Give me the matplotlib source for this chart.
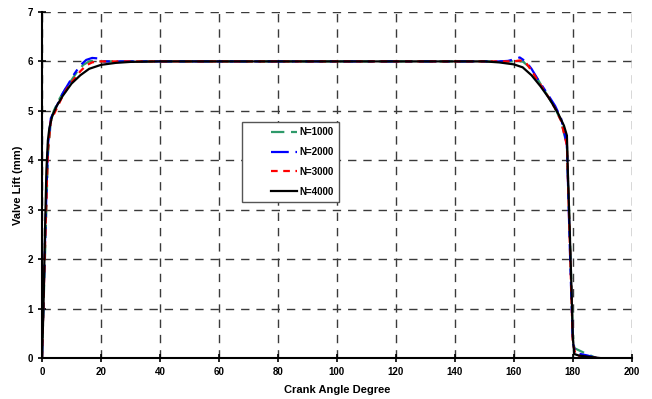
import matplotlib
matplotlib.use("Agg")
import matplotlib.pyplot as plt
from matplotlib.legend_handler import HandlerLine2D

plt.rcParams['font.family'] = ['Liberation Sans', 'DejaVu Sans']
plt.rcParams['font.weight'] = 'bold'

# valve lift curves (crank angle deg, lift mm)
x_1000 = [0, 1, 2, 3, 4, 6, 8, 10, 12, 14, 16, 18, 20, 25, 40, 100, 155, 160, 163, 165,
          168, 171, 174, 176, 177, 178, 179, 180, 180.5, 184, 186, 188]
y_1000 = [0, 2.0, 4.1, 4.8, 5.0, 5.25, 5.45, 5.62, 5.8, 5.93, 6.0, 6.02, 6.0, 6.0, 6.0, 6.0,
          6.0, 6.0, 6.0, 5.9, 5.65, 5.35, 5.05, 4.8, 4.55, 4.3, 2.5, 0.5, 0.2, 0.1, 0.05, 0]

x_2000 = [0, 1, 2, 3, 5, 7, 9, 11, 13, 15, 17, 19, 21, 25, 40, 100, 155, 158, 160, 162,
          164, 166, 168, 171, 174, 176, 177, 178, 179, 180, 181, 185, 188]
y_2000 = [0, 2.3, 4.3, 4.85, 5.1, 5.35, 5.55, 5.75, 5.92, 6.03, 6.07, 6.06, 6.0, 6.0, 6.0,
          6.0, 6.0, 6.01, 6.04, 6.08, 6.0, 5.85, 5.65, 5.38, 5.1, 4.85, 4.6, 4.3, 2.2, 0.3,
          0.1, 0.05, 0]

x_3000 = [0, 1, 2, 3, 5, 7, 9, 11, 13, 15, 17, 19, 25, 40, 100, 160, 162, 164, 166, 168,
          171, 174, 176, 177, 178, 179, 180, 181, 186, 188]
y_3000 = [0, 2.2, 4.2, 4.8, 5.05, 5.3, 5.5, 5.65, 5.8, 5.92, 5.98, 6.0, 6.0, 6.0, 6.0, 6.0,
          6.02, 5.98, 5.82, 5.62, 5.35, 5.05, 4.8, 4.55, 4.3, 2.3, 0.3, 0.05, 0.02, 0]

x_4000 = [0, 0.5, 1, 1.5, 2, 2.5, 3.5, 5, 7, 10, 13, 16, 20, 25, 30, 40, 100, 150, 155,
          160, 163, 166, 169, 172, 175, 177, 178, 178.3, 179, 179.5, 180, 180.5, 182, 186, 189]
y_4000 = [0, 1.0, 2.5, 3.8, 4.4, 4.65, 4.9, 5.1, 5.3, 5.55, 5.72, 5.85, 5.93, 5.97, 5.99,
          6.0, 6.0, 6.0, 5.98, 5.94, 5.88, 5.72, 5.5, 5.25, 4.95, 4.7, 4.5, 3.8, 2.5, 1.5,
          0.4, 0.08, 0.05, 0.02, 0]

fig = plt.figure(figsize=(6.52, 3.99), dpi=100)
ax = fig.add_axes([0.0644, 0.1028, 0.9046, 0.8672])

ax.plot(x_1000, y_1000, color='#2e9a6a', lw=1.6, dashes=(6, 3), label='N=1000')
ax.plot(x_2000, y_2000, color='#0000ff', lw=1.6, dashes=(8, 3, 3, 3), label='N=2000')
ax.plot(x_3000, y_3000, color='#ff0000', lw=1.6, dashes=(3, 2.5), label='N=3000')
ax.plot(x_4000, y_4000, color='black', lw=1.6, label='N=4000')

ax.set_xlim(0, 200)
ax.set_ylim(0, 7)
ax.set_xticks(range(0, 201, 20))
ax.set_yticks(range(0, 8))
ax.grid(True, color='#3a3a3a', linestyle=(0, (6, 5)), linewidth=1.0)
ax.set_axisbelow(True)
ax.spines['top'].set_visible(False)
ax.spines['right'].set_visible(False)
ax.spines['left'].set_linewidth(1.5)
ax.spines['bottom'].set_linewidth(1.5)
ax.tick_params(direction='inout', length=6, width=1.2, labelsize=7)
for lab in ax.get_xticklabels() + ax.get_yticklabels():
    lab.set_fontweight('bold')

ax.set_xlabel('Crank Angle Degree', fontsize=8, fontweight='bold', labelpad=6)
ax.set_ylabel('Valve Lift (mm)', fontsize=8, fontweight='bold', labelpad=3)

# handle line starts well inside the frame, like the original
hmap = {h: HandlerLine2D(xpad=2.4) for h in ax.get_lines()}
leg = ax.legend(loc='upper left', bbox_to_anchor=(0.339, 0.682), fontsize=7,
                handlelength=5.1, handletextpad=0.3, labelspacing=1.0,
                borderpad=0.55, fancybox=False, framealpha=1, borderaxespad=0,
                handler_map=hmap)
leg.get_frame().set_edgecolor('#555555')
leg.get_frame().set_linewidth(1.0)
for t in leg.get_texts():
    t.set_fontweight('bold')

fig.savefig('out.png', dpi=100)
